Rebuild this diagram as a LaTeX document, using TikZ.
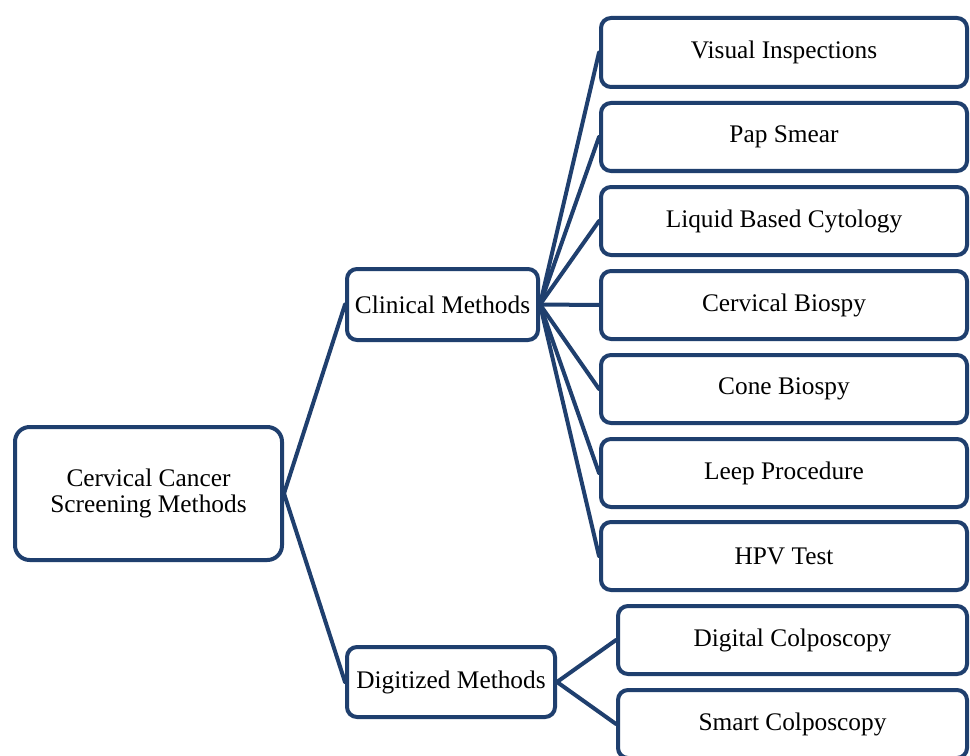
\documentclass[tikz,border=0pt]{standalone}
\usepackage{fontspec}
\setmainfont{Liberation Serif}
\definecolor{navy}{RGB}{31,63,110}
\begin{document}
\begin{tikzpicture}[x=0.75pt,y=-0.75pt,
  box/.style 2 args={draw=navy, line width=3pt, fill=white, rounded corners=7.5pt,
    minimum width=#1*0.75pt, minimum height=#2*0.75pt, inner sep=0pt, align=center,
    font=\fontsize{19}{19}\selectfont, text=black},
  link/.style={draw=navy, line width=3pt, line cap=round}]
\clip (0,0) rectangle (970,756);
\useasboundingbox (0,0) rectangle (970,756);
\fill[white] (0,0) rectangle (970,756);
\node[box={267}{133}, rounded corners=11pt] (root) at (148.5,493.5) {Cervical Cancer\\Screening Methods};
\node[box={191}{71}] (clin) at (442.5,304.5) {Clinical Methods};
\node[box={208}{70}] (dig) at (451,682) {Digitized Methods};
\node[box={366}{69}] (c1) at (784,52.5) {Visual Inspections};
\node[box={366}{68}] (c2) at (784,137) {Pap Smear};
\node[box={366}{68}] (c3) at (784,221) {Liquid Based Cytology};
\node[box={366}{68}] (c4) at (784,305) {Cervical Biospy};
\node[box={366}{68}] (c5) at (784,389) {Cone Biospy};
\node[box={366}{68}] (c6) at (784,473) {Leep Procedure};
\node[box={366}{68}] (c7) at (784,556) {HPV Test};
\node[box={349}{68}] (d1) at (792.5,640) {Digital Colposcopy};
\node[box={349}{68}] (d2) at (792.5,724) {Smart Colposcopy};
\begin{scope}[on background layer/.try]
\end{scope}
\draw[link] (root.east) -- (clin.west);
\draw[link] (root.east) -- (dig.west);
\foreach \c in {c1,c2,c3,c4,c5,c6,c7} \draw[link] (clin.east) -- (\c.west);
\foreach \c in {d1,d2} \draw[link] (dig.east) -- (\c.west);
\end{tikzpicture}
\end{document}
